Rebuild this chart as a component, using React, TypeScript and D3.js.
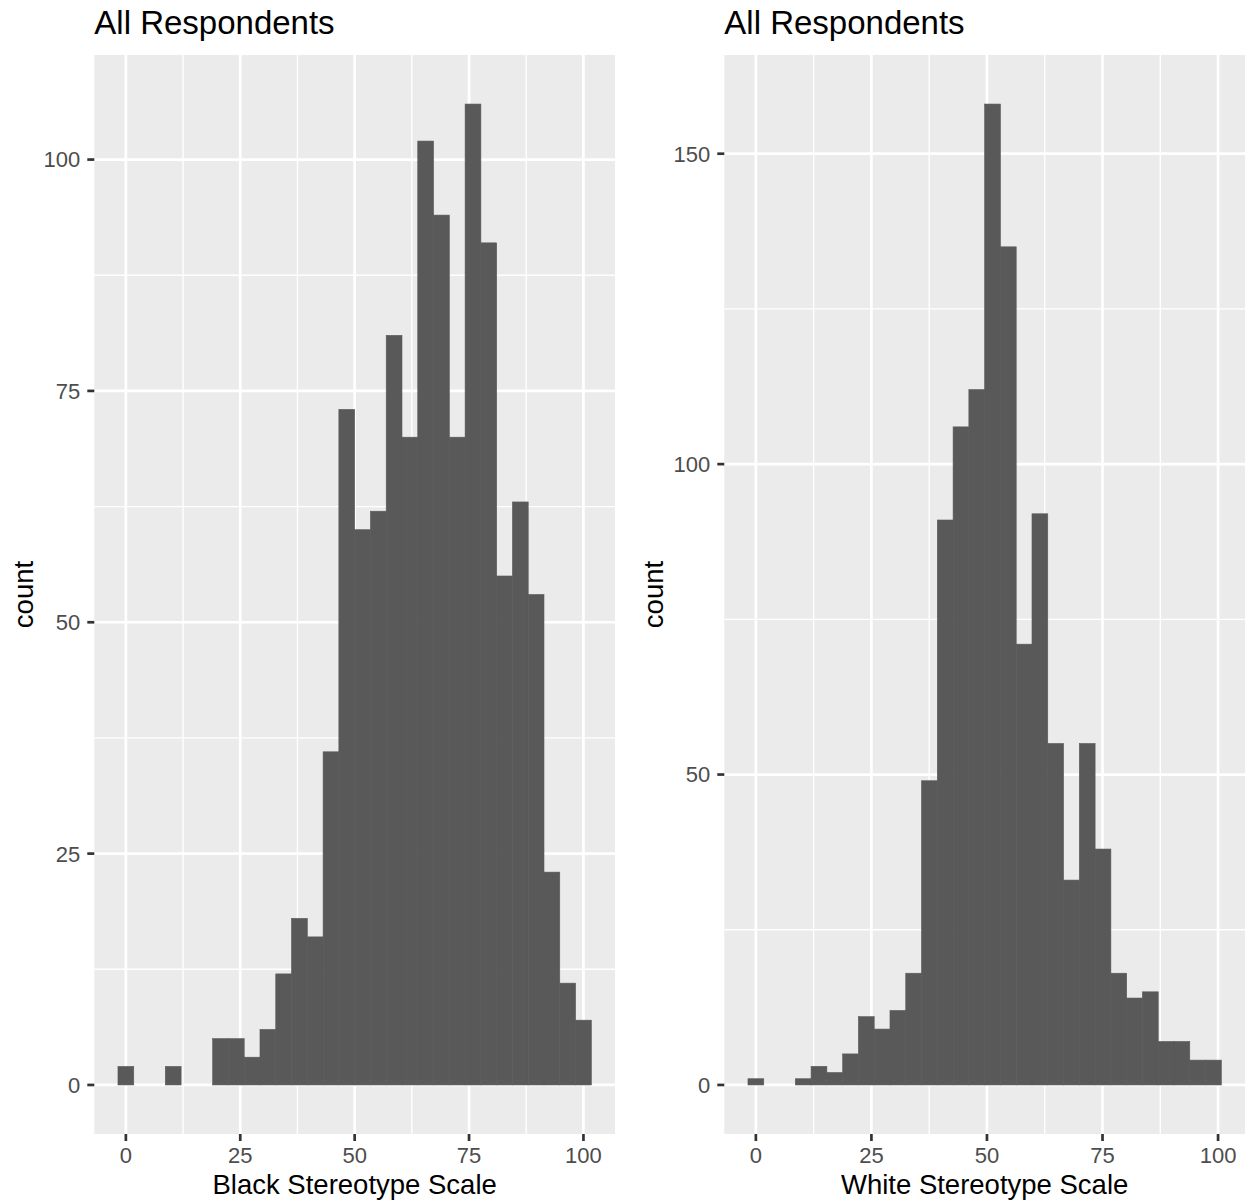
import React from "react";
import * as d3 from "d3";

// ---- Data ----
const blackCounts = [2, 0, 0, 2, 0, 0, 5, 5, 3, 6, 12, 18, 16, 36, 73, 60, 62, 81, 70, 102, 94, 70, 106, 91, 55, 63, 53, 23, 11, 7];
const whiteCounts = [1, 0, 0, 1, 3, 2, 5, 11, 9, 12, 18, 49, 91, 106, 112, 158, 135, 71, 92, 55, 33, 55, 38, 18, 14, 15, 7, 7, 4, 4];
const blackRange = [0, 100]; // range of bin centres
const whiteRange = [0, 99];
const xTicks = [0, 25, 50, 75, 100];
const xMinor = [12.5, 37.5, 62.5, 87.5];
const blackYTicks = [0, 25, 50, 75, 100];
const blackYMinor = [12.5, 37.5, 62.5, 87.5];
const whiteYTicks = [0, 50, 100, 150];
const whiteYMinor = [25, 75, 125];
const titles = ["All Respondents", "All Respondents"];
const xLabels = ["Black Stereotype Scale", "White Stereotype Scale"];
const yLabel = "count";

const W = 1249;
const H = 1203;
const FONT = "'Liberation Sans', Arial, Helvetica, sans-serif";

type PanelProps = {
  counts: number[];
  range: number[];
  yTicks: number[];
  yMinor: number[];
  left: number;
  right: number;
  title: string;
  xLabel: string;
};

function Panel({ counts, range, yTicks, yMinor, left, right, title, xLabel }: PanelProps) {
  const top = 55;
  const bottom = 1134;
  const n = counts.length;
  const bw = (range[1] - range[0]) / (n - 1);
  const lo = range[0] - bw / 2;
  const hi = range[1] + bw / 2;
  const padX = (hi - lo) * 0.05;
  const x = d3.scaleLinear().domain([lo - padX, hi + padX]).range([left, right]);
  const maxC = d3.max(counts) as number;
  const padY = maxC * 0.05;
  const y = d3.scaleLinear().domain([-padY, maxC + padY]).range([bottom, top]);
  const bins = counts.map((c, i) => ({ x0: lo + i * bw, x1: lo + (i + 1) * bw, c }));
  const grid = "#FFFFFF";
  const tickCol = "#333333";
  const labCol = "#4D4D4D";
  return (
    <g>
      <rect x={left} y={top} width={right - left} height={bottom - top} fill="#EBEBEB" />
      {yMinor.map((t) => (
        <line key={"ym" + t} x1={left} x2={right} y1={y(t)} y2={y(t)} stroke={grid} strokeWidth={1.35} />
      ))}
      {xMinor.map((t) => (
        <line key={"xm" + t} y1={top} y2={bottom} x1={x(t)} x2={x(t)} stroke={grid} strokeWidth={1.35} />
      ))}
      {yTicks.map((t) => (
        <line key={"yg" + t} x1={left} x2={right} y1={y(t)} y2={y(t)} stroke={grid} strokeWidth={2.7} />
      ))}
      {xTicks.map((t) => (
        <line key={"xg" + t} y1={top} y2={bottom} x1={x(t)} x2={x(t)} stroke={grid} strokeWidth={2.7} />
      ))}
      {bins.filter((b) => b.c > 0).map((b, i) => (
        <rect
          key={"b" + i}
          x={x(b.x0)}
          width={x(b.x1) - x(b.x0)}
          y={y(b.c)}
          height={y(0) - y(b.c)}
          fill="#595959"
          stroke="#595959"
          strokeWidth={0.6}
        />
      ))}
      {/* axis ticks */}
      {yTicks.map((t) => (
        <g key={"yt" + t}>
          <line x1={left - 7} x2={left} y1={y(t)} y2={y(t)} stroke={tickCol} strokeWidth={2.7} />
          <text x={left - 14} y={y(t)} dy="0.36em" textAnchor="end" fontSize={22} fill={labCol} fontFamily={FONT}>
            {t}
          </text>
        </g>
      ))}
      {xTicks.map((t) => (
        <g key={"xt" + t}>
          <line y1={bottom} y2={bottom + 7} x1={x(t)} x2={x(t)} stroke={tickCol} strokeWidth={2.7} />
          <text x={x(t)} y={1163} textAnchor="middle" fontSize={22} fill={labCol} fontFamily={FONT}>
            {t}
          </text>
        </g>
      ))}
      <text x={(left + right) / 2} y={1194} textAnchor="middle" fontSize={27.5} fill="#000" fontFamily={FONT}>
        {xLabel}
      </text>
      <text
        transform={`translate(${left - 61},${(top + bottom) / 2}) rotate(-90)`}
        textAnchor="middle"
        fontSize={27.5}
        fill="#000"
        fontFamily={FONT}
      >
        {yLabel}
      </text>
      <text x={left} y={33.5} fontSize={33} fill="#000" fontFamily={FONT}>
        {title}
      </text>
    </g>
  );
}

export default function App() {
  return (
    <svg
      width={W}
      height={H}
      viewBox={`0 0 ${W} ${H}`}
      style={{ position: "absolute", left: 0, top: 0, background: "#fff", display: "block" }}
    >
      <rect x={0} y={0} width={W} height={H} fill="#fff" />
      <Panel
        counts={blackCounts}
        range={blackRange}
        yTicks={blackYTicks}
        yMinor={blackYMinor}
        left={94.3}
        right={615}
        title={titles[0]}
        xLabel={xLabels[0]}
      />
      <Panel
        counts={whiteCounts}
        range={whiteRange}
        yTicks={whiteYTicks}
        yMinor={whiteYMinor}
        left={724.3}
        right={1245}
        title={titles[1]}
        xLabel={xLabels[1]}
      />
    </svg>
  );
}
